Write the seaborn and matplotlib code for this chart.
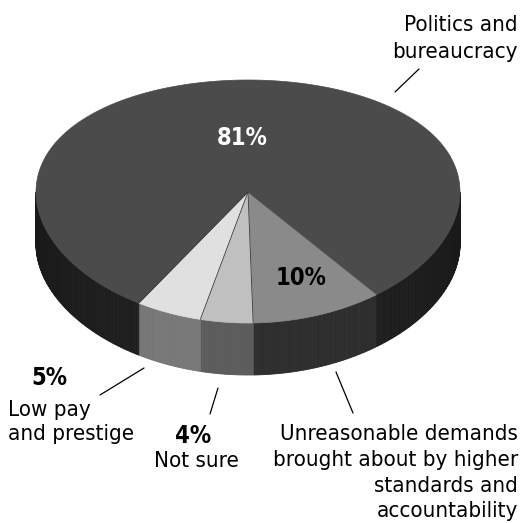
import numpy as np
import matplotlib
matplotlib.use("Agg")
import matplotlib.pyplot as plt
from matplotlib.patches import Polygon
import seaborn as sns

# Survey shares, listed clockwise starting at the right edge of the front wedge
categories = ["Unreasonable demands", "Not sure", "Low pay and prestige", "Politics and bureaucracy"]
shares = [10, 4, 5, 81]
pct_labels = ["10%", "4%", "5%", "81%"]

top_colors = ["#8a8a8a", "#c0c0c0", "#e0e0e0", "#4b4b4b"]
side_colors = ["#2e2e2e", "#5c5c5c", "#7a7a7a", "#1f1f1f"]

sns.set_theme(style="white")
plt.rcParams["font.family"] = ["DejaVu Sans"]
plt.rcParams["font.stretch"] = "condensed"
plt.rcParams["text.color"] = "black"

W, H = 524, 523
fig = plt.figure(figsize=(W / 100, H / 100), dpi=100)
ax = fig.add_axes([0, 0, 1, 1])
ax.set_xlim(0, W)
ax.set_ylim(H, 0)
ax.axis("off")

# tilted disc geometry (screen pixels, y downward)
cx, cy = 248.0, 192.0
A, B, D = 212.0, 121.5, 9.5
depth = 52.0
start = 52.6


def rim(t_deg, dy=0.0):
    t = np.radians(t_deg)
    s = np.sin(t)
    return cx + A * np.cos(t), cy + B * s + D * s * s + dy


angles = start + np.concatenate([[0], np.cumsum(shares)]) * 3.6

# side walls (front half only)
for i in range(len(shares)):
    a0, a1 = angles[i], angles[i + 1]
    for lo, hi in [(0, 180), (360, 540)]:
        s0, s1 = max(a0, lo), min(a1, hi)
        if s1 <= s0:
            continue
        n = max(int((s1 - s0) * 2), 2)
        ts = np.linspace(s0, s1, n + 1)
        base = np.array(matplotlib.colors.to_rgb(side_colors[i]))
        for k in range(n):
            tm = 0.5 * (ts[k] + ts[k + 1])
            shade = 0.8 + 0.2 * np.sin(np.radians(tm))
            col = np.clip(base * shade, 0, 1)
            x0, y0 = rim(ts[k])
            x1, y1 = rim(ts[k + 1])
            poly = [(x0, y0), (x1, y1), (x1, y1 + depth), (x0, y0 + depth)]
            ax.add_patch(Polygon(poly, closed=True, facecolor=col,
                                 edgecolor=col, linewidth=0.6))

# top faces
for i in range(len(shares)):
    ts = np.linspace(angles[i], angles[i + 1], 200)
    xs, ys = rim(ts)
    pts = [(cx, cy)] + list(zip(xs, ys))
    ax.add_patch(Polygon(pts, closed=True, facecolor=top_colors[i],
                         edgecolor=top_colors[i], linewidth=0.5))

# slice divider lines on the top face
for a in angles[1:4]:
    x, y = rim(a)
    ax.plot([cx, x], [cy, y], color="#3a3a3a", lw=0.6)

pfs = 17
fs = 16
# value labels inside the pie
ax.text(242, 138, pct_labels[3], color="white", fontsize=pfs, fontweight="bold",
        ha="center", va="center")
ax.text(301, 278, pct_labels[0], color="black", fontsize=pfs, fontweight="bold",
        ha="center", va="center")

# Politics and bureaucracy
ax.text(518, 31, "Politics and", fontsize=fs, ha="right", va="baseline")
ax.text(518, 58, "bureaucracy", fontsize=fs, ha="right", va="baseline")
ax.plot([395, 419], [92, 69], color="black", lw=0.9)

# Low pay and prestige
ax.text(49, 385, pct_labels[2], fontsize=pfs, fontweight="bold", ha="center", va="baseline")
ax.text(8, 416, "Low pay", fontsize=fs, ha="left", va="baseline")
ax.text(8, 440, "and prestige", fontsize=fs, ha="left", va="baseline")
ax.plot([100, 144], [395, 368], color="black", lw=0.9)

# Not sure
ax.text(193, 443, pct_labels[1], fontsize=pfs, fontweight="bold", ha="center", va="baseline")
ax.text(196, 467, "Not sure", fontsize=fs, ha="center", va="baseline")
ax.plot([210, 218], [414, 388], color="black", lw=0.9)

# Unreasonable demands
for txt, yb in [("Unreasonable demands", 440), ("brought about by higher", 466),
                ("standards and", 492), ("accountability", 517)]:
    ax.text(518, yb, txt, fontsize=fs, ha="right", va="baseline")
ax.plot([336, 353], [372, 413], color="black", lw=0.9)

fig.savefig("out.png", dpi=100, facecolor="white")
